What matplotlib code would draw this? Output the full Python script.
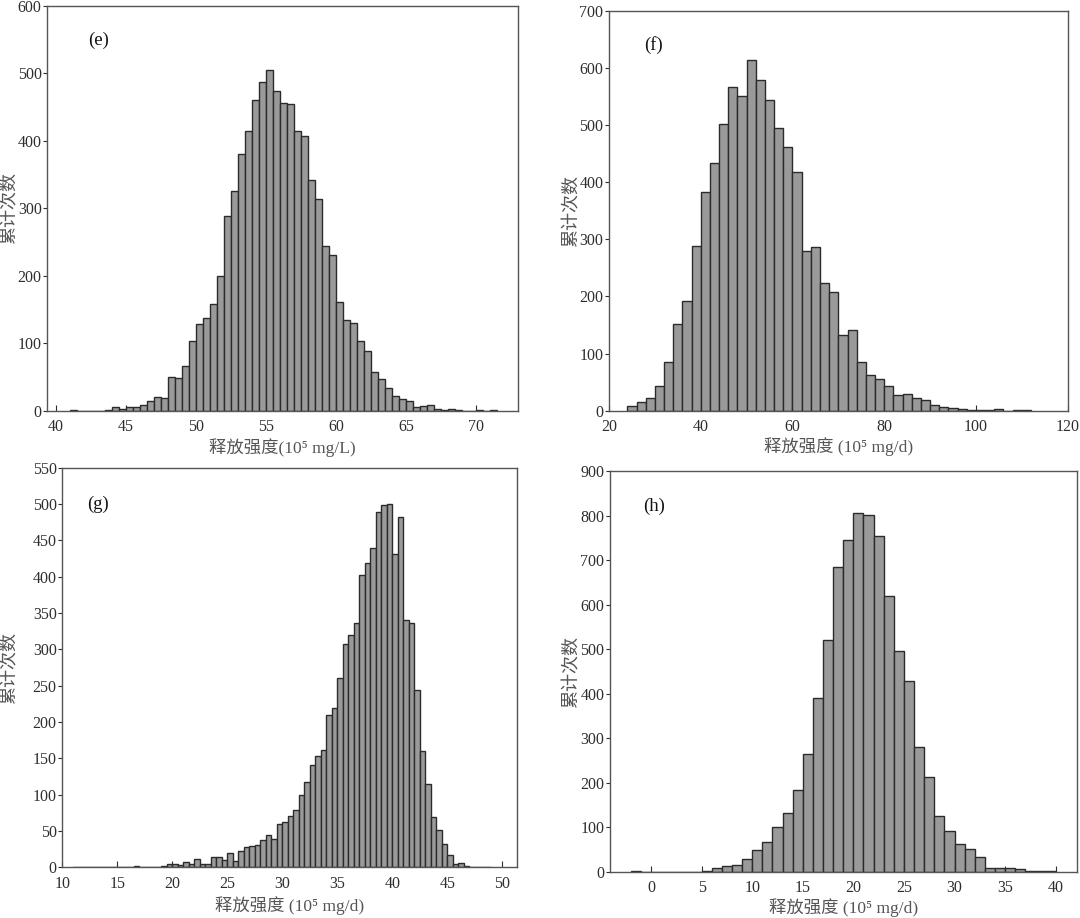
import matplotlib
matplotlib.use("Agg")
import matplotlib.pyplot as plt
import numpy as np

plt.rcParams['font.family'] = ['Liberation Serif', 'Noto Sans CJK SC', 'DejaVu Sans']

# ---- data: histogram counts (bin start, bin width, counts) ----
e_start, e_width = 41.0, 0.5
e_counts = [1, 0, 0, 0, 0, 1, 5, 2, 5, 6, 8, 14, 21, 19, 50, 48, 66, 103, 129, 137,
            158, 199, 288, 326, 381, 414, 461, 487, 504, 474, 456, 455, 415, 407, 342,
            313, 244, 230, 161, 134, 130, 104, 88, 57, 47, 33, 22, 18, 14, 5, 7, 8, 3,
            1, 2, 1, 0, 0, 1, 0, 1]

f_start, f_width = 24.0, 2.0
f_counts = [9, 15, 23, 43, 86, 152, 192, 288, 383, 434, 502, 566, 551, 614, 579, 544,
            494, 462, 418, 279, 287, 224, 207, 132, 142, 86, 62, 55, 44, 28, 29, 23, 18,
            10, 6, 4, 3, 2, 1, 2, 3, 0, 1, 1]

g_start, g_width = 11.0, 0.5
g_counts = [1, 0, 0, 0, 1, 0, 0, 1, 0, 1, 0, 2, 1, 0, 1, 1, 2, 5, 5, 3, 7, 5, 11, 5, 5,
            14, 14, 10, 19, 9, 22, 28, 30, 31, 37, 45, 39, 60, 63, 71, 79, 99, 117, 141,
            153, 162, 209, 219, 260, 307, 320, 336, 403, 419, 440, 489, 499, 500, 431,
            482, 340, 336, 244, 160, 114, 69, 51, 32, 17, 5, 6, 2, 0, 0, 0, 1]

h_start, h_width = -2.0, 1.0
h_counts = [2, 0, 1, 1, 1, 1, 1, 2, 9, 13, 16, 30, 49, 68, 101, 132, 185, 265, 390, 521,
            685, 745, 806, 801, 753, 619, 496, 429, 281, 214, 125, 92, 63, 52, 34, 10,
            10, 10, 6, 3, 3, 3]

panel_tags = ['(e)', '(f)', '(g)', '(h)']
x_labels = ['释放强度(10⁵ mg/L)', '释放强度 (10⁵ mg/d)',
            '释放强度 (10⁵ mg/d)', '释放强度 (10⁵ mg/d)']
y_label = '累计次数'

W, H = 1080, 918
fig = plt.figure(figsize=(W / 100, H / 100), dpi=100)

# axes boxes in pixels: left, right, top, bottom
boxes = [(47.3, 518.3, 5.7, 410.7),
         (609.0, 1067.7, 10.7, 410.7),
         (62.3, 517.3, 467.7, 867.3),
         (610.0, 1077.0, 471.0, 872.0)]
xlims = [(39.4, 73.0), (20, 120), (10, 51.35), (-4.05, 42.1)]
ylims = [(0, 600), (0, 700), (0, 550), (0, 900)]
xticks = [np.arange(40, 71, 5), np.arange(20, 121, 20), np.arange(10, 51, 5), np.arange(0, 41, 5)]
yticks = [np.arange(0, 601, 100), np.arange(0, 701, 100), np.arange(0, 551, 50), np.arange(0, 901, 100)]
tag_pos = [(0.086, 0.915), (0.076, 0.913), (0.054, 0.908), (0.07, 0.913)]
ylabel_x = [10, 572, 10, 572]
xlabel_base = [453, 452, 911, 913]

datasets = [(e_start, e_width, e_counts), (f_start, f_width, f_counts),
            (g_start, g_width, g_counts), (h_start, h_width, h_counts)]

cjk = ['Noto Sans CJK SC', 'DejaVu Sans']
mixed = ['Liberation Serif', 'Noto Sans CJK SC', 'DejaVu Sans']

for i in range(4):
    l, r, t, b = boxes[i]
    ax = fig.add_axes([l / W, 1 - b / H, (r - l) / W, (b - t) / H])
    start, width, counts = datasets[i]
    edges = start + width * np.arange(len(counts))
    ax.bar(edges, counts, width=width, align='edge', color='#9a9a9a',
           edgecolor='#2b2b2b', linewidth=1.0)
    ax.set_xlim(*xlims[i])
    ax.set_ylim(*ylims[i])
    ax.set_xticks(xticks[i])
    ax.set_yticks(yticks[i])
    for s in ax.spines.values():
        s.set_color('#555555')
        s.set_linewidth(1.0)
    ax.tick_params(axis='x', direction='in', length=4, labelsize=11.5,
                   colors='#2e2e2e', pad=6)
    ax.tick_params(axis='y', direction='out', length=3, labelsize=11.5,
                   colors='#2e2e2e', pad=1)
    ax.text(tag_pos[i][0], tag_pos[i][1], panel_tags[i], transform=ax.transAxes,
            ha='left', va='center', fontsize=13.5, color='#111111',
            family='Liberation Serif')
    fig.text(((l + r) / 2) / W, 1 - xlabel_base[i] / H, x_labels[i],
             ha='center', va='baseline', fontsize=12.5, family=mixed, color='#555555')
    fig.text(ylabel_x[i] / W, 1 - ((t + b) / 2) / H, y_label, rotation=90,
             ha='center', va='center', fontsize=13, family=cjk, color='#555555')

fig.savefig('out.png', dpi=100)
